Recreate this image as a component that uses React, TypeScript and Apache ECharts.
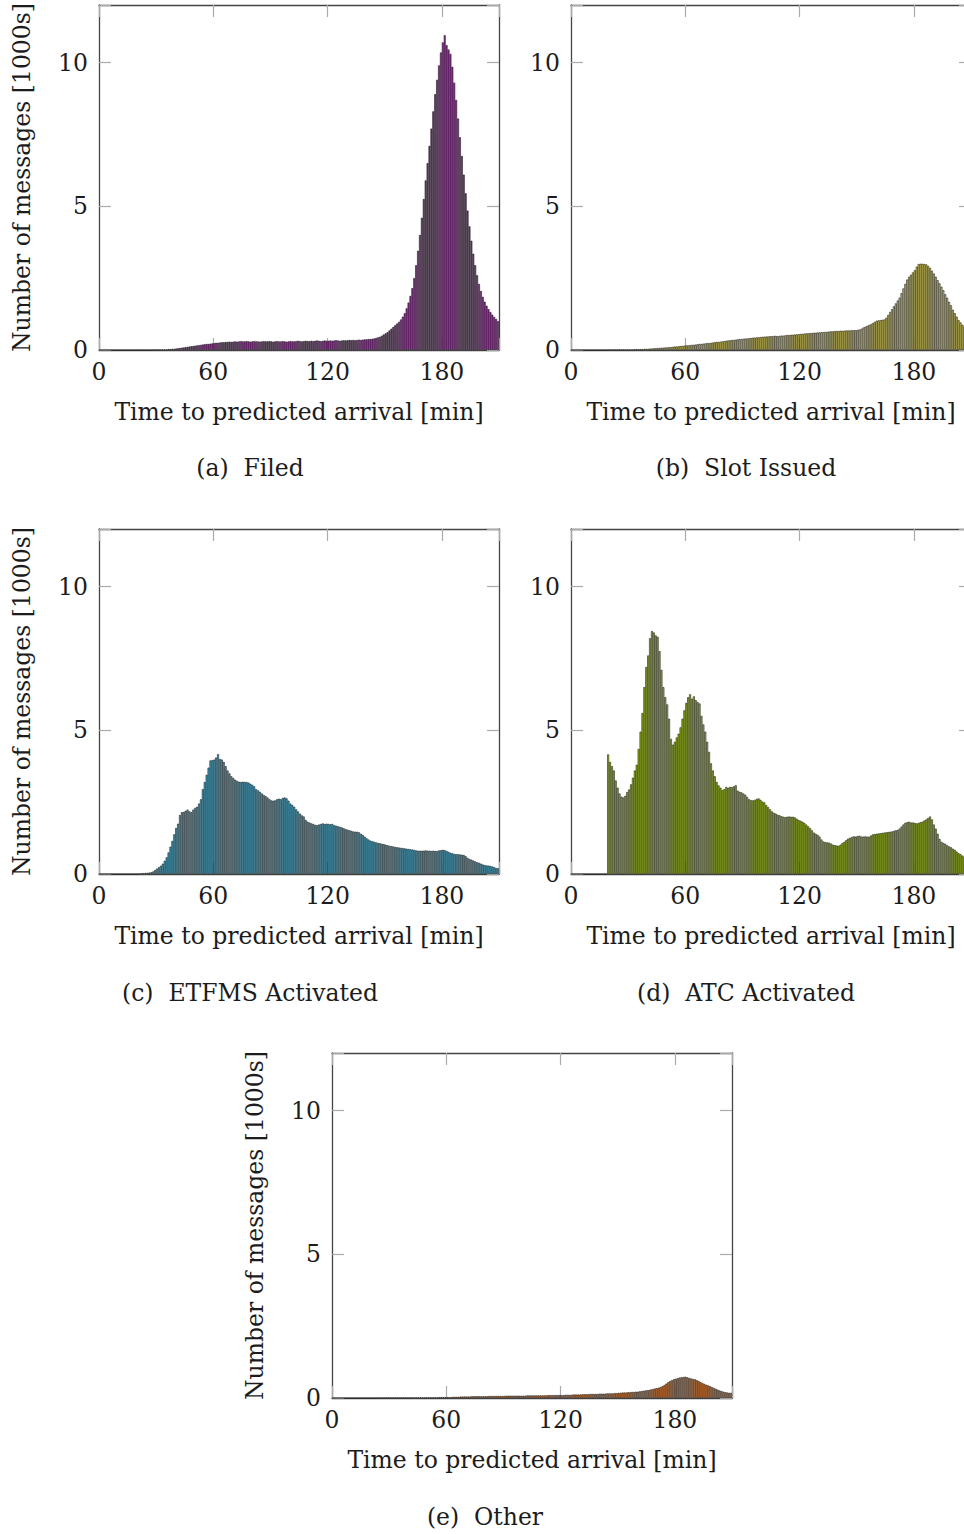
import React, { useEffect, useRef } from "react";
import * as echarts from "echarts";

const xTicks = [0, 60, 120, 180];
const yTicks = [0, 5, 10];
const xTitle = "Time to predicted arrival [min]";
const yTitle = "Number of messages [1000s]";

// 1-minute bins, 0..209 min, values in 1000s of messages
const filed = [
  0, 0, 0, 0, 0, 0, 0, 0, 0, 0,
  0, 0, 0, 0, 0, 0, 0, 0, 0, 0,
  0, 0, 0, 0, 0, 0, 0, 0, 0.01, 0.01,
  0.01, 0.01, 0.01, 0.02, 0.02, 0.02, 0.03, 0.03, 0.04, 0.04,
  0.05, 0.06, 0.07, 0.08, 0.09, 0.1, 0.11, 0.12, 0.13, 0.14,
  0.15, 0.16, 0.17, 0.18, 0.19, 0.2, 0.21, 0.21, 0.22, 0.23,
  0.24, 0.25, 0.25, 0.26, 0.27, 0.27, 0.28, 0.28, 0.29, 0.28,
  0.29, 0.3, 0.29, 0.3, 0.31, 0.3, 0.3, 0.31, 0.3, 0.29,
  0.3, 0.31, 0.3, 0.3, 0.29, 0.3, 0.31, 0.3, 0.3, 0.31,
  0.3, 0.29, 0.3, 0.31, 0.3, 0.3, 0.31, 0.3, 0.29, 0.3,
  0.31, 0.3, 0.3, 0.31, 0.32, 0.31, 0.3, 0.31, 0.32, 0.31,
  0.31, 0.32, 0.31, 0.32, 0.33, 0.32, 0.31, 0.32, 0.33, 0.32,
  0.32, 0.33, 0.32, 0.33, 0.34, 0.33, 0.32, 0.33, 0.34, 0.33,
  0.34, 0.35, 0.34, 0.35, 0.34, 0.35, 0.36, 0.35, 0.36, 0.37,
  0.37, 0.38, 0.38, 0.39, 0.4, 0.42, 0.44, 0.46, 0.5, 0.54,
  0.58, 0.62, 0.68, 0.74, 0.8, 0.86, 0.92, 0.98, 1.06, 1.16,
  1.28, 1.45, 1.65, 1.88, 2.15, 2.5, 2.95, 3.45, 4.0, 4.6,
  5.25, 5.9, 6.5, 7.1, 7.7, 8.3, 8.9, 9.4, 9.9, 10.35,
  10.7, 10.95, 10.6, 10.45, 10.3, 9.85, 9.3, 8.7, 8.05, 7.4,
  6.75, 6.1, 5.45, 4.85, 4.3, 3.8, 3.35, 2.95, 2.6, 2.3,
  2.05, 1.85, 1.68, 1.54, 1.42, 1.32, 1.23, 1.15, 1.08, 1.0,
];

const slotIssued = [
  0, 0, 0, 0, 0, 0, 0, 0, 0, 0,
  0, 0, 0, 0, 0, 0, 0, 0, 0, 0.01,
  0.01, 0.01, 0.01, 0.01, 0.01, 0.01, 0.01, 0.02, 0.02, 0.02,
  0.02, 0.02, 0.02, 0.03, 0.03, 0.03, 0.03, 0.03, 0.04, 0.04,
  0.04, 0.05, 0.05, 0.06, 0.06, 0.07, 0.07, 0.08, 0.08, 0.09,
  0.09, 0.1, 0.1, 0.11, 0.12, 0.12, 0.13, 0.14, 0.14, 0.15,
  0.16, 0.16, 0.17, 0.18, 0.18, 0.19, 0.2, 0.21, 0.21, 0.22,
  0.23, 0.24, 0.24, 0.25, 0.26, 0.27, 0.28, 0.28, 0.29, 0.3,
  0.31, 0.32, 0.33, 0.34, 0.35, 0.35, 0.36, 0.37, 0.38, 0.38,
  0.39, 0.4, 0.4, 0.41, 0.42, 0.43, 0.43, 0.44, 0.44, 0.45,
  0.46, 0.46, 0.47, 0.47, 0.48, 0.48, 0.49, 0.49, 0.48, 0.49,
  0.5, 0.5, 0.51, 0.52, 0.52, 0.53, 0.53, 0.54, 0.54, 0.55,
  0.56, 0.56, 0.57, 0.58, 0.58, 0.59, 0.59, 0.6, 0.6, 0.61,
  0.61, 0.62, 0.62, 0.63, 0.63, 0.64, 0.65, 0.65, 0.66, 0.66,
  0.66, 0.67, 0.67, 0.67, 0.68, 0.68, 0.68, 0.69, 0.69, 0.69,
  0.7, 0.71, 0.74, 0.78, 0.81, 0.84, 0.87, 0.9, 0.94, 0.98,
  1.02, 1.03, 1.04, 1.05, 1.06, 1.12, 1.22, 1.32, 1.42, 1.52,
  1.62, 1.72, 1.82, 1.98, 2.14, 2.3, 2.45, 2.55, 2.62, 2.7,
  2.78, 2.9, 2.99, 3.0, 3.0, 2.99, 2.98, 2.93, 2.86, 2.76,
  2.66, 2.55, 2.43, 2.32, 2.2, 2.08, 1.94, 1.82, 1.68, 1.56,
  1.4, 1.28, 1.16, 1.04, 0.96, 0.88, 0.83, 0.78, 0.74, 0.7,
];

const etfmsActivated = [
  0, 0, 0, 0, 0, 0, 0, 0, 0, 0,
  0, 0, 0, 0, 0, 0, 0, 0, 0, 0,
  0.01, 0.02, 0.03, 0.03, 0.04, 0.04, 0.05, 0.06, 0.09, 0.14,
  0.19, 0.24, 0.29, 0.36, 0.46, 0.58, 0.75, 0.95, 1.15, 1.38,
  1.6, 1.75, 2.05, 2.15, 2.16, 2.2, 2.24, 2.18, 2.15, 2.24,
  2.3, 2.34, 2.45, 2.6, 2.95, 3.2, 3.45, 3.7, 3.95, 3.96,
  3.98, 4.05, 4.17, 4.0, 3.98, 3.9, 3.75, 3.6, 3.5, 3.4,
  3.34, 3.28, 3.24, 3.21, 3.2, 3.21, 3.2, 3.2, 3.18, 3.14,
  3.1, 3.05, 2.95, 2.91, 2.86, 2.8, 2.75, 2.71, 2.66, 2.6,
  2.56, 2.55, 2.56, 2.6, 2.62, 2.6, 2.65, 2.66, 2.63, 2.55,
  2.45, 2.4, 2.34, 2.25, 2.18, 2.1, 2.04, 2.0, 1.88, 1.82,
  1.79, 1.76, 1.74, 1.71, 1.7, 1.72, 1.74, 1.76, 1.74, 1.75,
  1.74, 1.73, 1.74, 1.7, 1.68, 1.66, 1.64, 1.62, 1.59, 1.56,
  1.54, 1.52, 1.5, 1.48, 1.47, 1.47, 1.45, 1.4, 1.36, 1.3,
  1.24, 1.2, 1.16, 1.14, 1.12, 1.1, 1.08, 1.07, 1.05, 1.04,
  1.02, 1.0, 0.98, 0.97, 0.96, 0.94, 0.93, 0.92, 0.91, 0.9,
  0.89, 0.88, 0.87, 0.86, 0.85, 0.84, 0.82, 0.81, 0.81, 0.81,
  0.81, 0.82, 0.81, 0.81, 0.8, 0.81, 0.8, 0.8, 0.82, 0.83,
  0.84, 0.83, 0.8, 0.77, 0.74, 0.72, 0.7, 0.69, 0.69, 0.68,
  0.67, 0.66, 0.62, 0.56, 0.52, 0.5, 0.47, 0.44, 0.41, 0.39,
  0.36, 0.33, 0.31, 0.3, 0.29, 0.28, 0.26, 0.24, 0.21, 0.2,
];

const atcActivated = [
  0, 0, 0, 0, 0, 0, 0, 0, 0, 0,
  0, 0, 0, 0, 0, 0, 0, 0, 0, 4.16,
  3.9, 3.75, 3.6, 3.25, 3.0, 2.8, 2.69, 2.66, 2.72, 2.85,
  2.94, 3.12, 3.35, 3.6, 3.8, 4.35, 4.95, 5.6, 6.5, 7.2,
  7.6, 8.2, 8.45, 8.4, 8.3, 8.25, 7.75, 7.1, 6.5, 6.15,
  5.9, 5.4, 4.7, 4.5, 4.6, 4.75, 4.88, 5.1, 5.4, 5.69,
  5.95, 6.15, 6.25, 6.1, 6.18, 6.05, 5.98, 5.93, 5.5, 5.2,
  4.95, 4.6, 4.25, 3.85, 3.6, 3.4, 3.2, 3.08, 3.0, 2.92,
  2.95, 3.03, 3.0, 3.03, 3.02, 3.05, 3.09, 2.9, 2.86, 2.84,
  2.8, 2.76, 2.68, 2.6, 2.57, 2.56, 2.58, 2.61, 2.63, 2.58,
  2.52, 2.49, 2.4, 2.33, 2.25, 2.18, 2.13, 2.1, 2.06, 2.04,
  2.01, 1.99, 1.98, 1.99, 2.0, 1.99, 1.99, 1.97, 1.92, 1.88,
  1.85, 1.82, 1.78, 1.72, 1.66, 1.6, 1.52, 1.44, 1.4, 1.36,
  1.3, 1.2, 1.13, 1.11, 1.1, 1.09, 1.06, 1.02, 1.0, 0.99,
  0.98, 1.02, 1.08, 1.12, 1.18, 1.23, 1.26, 1.29, 1.31, 1.3,
  1.32, 1.33, 1.3, 1.3, 1.31, 1.3, 1.3, 1.34, 1.38, 1.39,
  1.4, 1.41, 1.42, 1.43, 1.44, 1.45, 1.46, 1.47, 1.48, 1.5,
  1.52, 1.53, 1.58, 1.65, 1.72, 1.78, 1.8, 1.82, 1.79, 1.79,
  1.78, 1.76, 1.78, 1.8, 1.82, 1.86, 1.9, 1.95, 2.0, 1.9,
  1.72, 1.58, 1.4, 1.22, 1.12, 1.08, 1.05, 1.0, 0.96, 0.93,
  0.88, 0.84, 0.78, 0.72, 0.69, 0.64, 0.6, 0.58, 0.55, 0.52,
];

const other = [
  0, 0, 0, 0, 0, 0, 0, 0, 0, 0,
  0, 0, 0, 0, 0, 0, 0, 0, 0, 0,
  0, 0, 0, 0, 0, 0.01, 0.01, 0.01, 0.01, 0.01,
  0.01, 0.01, 0.01, 0.01, 0.01, 0.01, 0.01, 0.01, 0.01, 0.01,
  0.01, 0.01, 0.02, 0.02, 0.02, 0.02, 0.02, 0.02, 0.02, 0.02,
  0.02, 0.02, 0.02, 0.02, 0.02, 0.02, 0.03, 0.03, 0.03, 0.03,
  0.03, 0.03, 0.03, 0.04, 0.04, 0.04, 0.04, 0.05, 0.05, 0.05,
  0.05, 0.05, 0.05, 0.06, 0.06, 0.06, 0.06, 0.06, 0.06, 0.06,
  0.06, 0.06, 0.07, 0.07, 0.07, 0.07, 0.07, 0.07, 0.07, 0.07,
  0.07, 0.08, 0.08, 0.08, 0.08, 0.08, 0.08, 0.08, 0.08, 0.08,
  0.08, 0.08, 0.09, 0.09, 0.09, 0.09, 0.09, 0.09, 0.09, 0.09,
  0.09, 0.09, 0.09, 0.1, 0.1, 0.1, 0.1, 0.1, 0.1, 0.1,
  0.1, 0.1, 0.11, 0.11, 0.11, 0.11, 0.12, 0.12, 0.12, 0.12,
  0.12, 0.13, 0.13, 0.13, 0.13, 0.14, 0.14, 0.14, 0.14, 0.14,
  0.15, 0.15, 0.15, 0.15, 0.16, 0.16, 0.16, 0.16, 0.17, 0.17,
  0.18, 0.18, 0.19, 0.19, 0.19, 0.2, 0.2, 0.21, 0.21, 0.22,
  0.22, 0.23, 0.24, 0.25, 0.26, 0.27, 0.28, 0.3, 0.31, 0.33,
  0.34, 0.36, 0.38, 0.41, 0.45, 0.5, 0.55, 0.59, 0.62, 0.65,
  0.67, 0.69, 0.71, 0.72, 0.73, 0.74, 0.72, 0.7, 0.68, 0.66,
  0.65, 0.62, 0.59, 0.55, 0.52, 0.49, 0.46, 0.44, 0.41, 0.38,
  0.35, 0.32, 0.29, 0.26, 0.24, 0.22, 0.2, 0.19, 0.18, 0.18,
];

const captions = ["(a)", "(b)", "(c)", "(d)", "(e)"];
const names = ["Filed", "Slot Issued", "ETFMS Activated", "ATC Activated", "Other"];
const seriesData = [filed, slotIssued, etfmsActivated, atcActivated, other];
const colors = ["#8c2a93", "#e2d657", "#45aed1", "#a2c616", "#ea7a28"];

// layout (pixels)
const layout = [
  { left: 99, top: 5, yTitle: true, capX: 250, capY: 468 },
  { left: 571, top: 5, yTitle: false, capX: 746, capY: 468 },
  { left: 99, top: 529, yTitle: true, capX: 250, capY: 993 },
  { left: 571, top: 529, yTitle: false, capX: 746, capY: 993 },
  { left: 332, top: 1053, yTitle: true, capX: 485, capY: 1517 },
];
const PW = 400;
const PH = 345;
const XMAX = 210;
const YMAX = 12;
const FONT = "DejaVu Serif";
const FS = 23.5;
const TXT = "#1c1c1c";

export default function App() {
  const ref = useRef<HTMLDivElement>(null);
  useEffect(() => {
    if (!ref.current) return;
    const chart = echarts.init(ref.current, undefined, { renderer: "svg" });
    const grid: any[] = [];
    const xAxis: any[] = [];
    const yAxis: any[] = [];
    const series: any[] = [];
    const graphic: any[] = [];
    const lineStyle = { color: "#444", width: 1.3 };
    const tickStyle = { color: "#aaa", width: 1.2 };
    layout.forEach((p, i) => {
      grid.push({
        left: p.left,
        top: p.top,
        width: PW,
        height: PH,
        containLabel: false,
        outerBoundsMode: "none",
      });
      xAxis.push({
        gridIndex: i,
        type: "value",
        position: "bottom",
        min: 0,
        max: XMAX,
        interval: 60,
        axisLine: { show: true, onZero: false, lineStyle },
        axisTick: { show: true, inside: true, length: 12, lineStyle: tickStyle },
        axisLabel: {
          show: true,
          margin: 10,
          fontFamily: FONT,
          fontSize: FS,
          color: TXT,
          formatter: (v: number) => (xTicks.includes(v) ? String(v) : ""),
        },
        splitLine: { show: false },
        name: xTitle,
        nameLocation: "middle",
        nameGap: 50,
        nameTextStyle: { fontFamily: FONT, fontSize: FS, color: TXT },
      });
      xAxis.push({
        gridIndex: i,
        type: "value",
        position: "top",
        min: 0,
        max: XMAX,
        interval: 60,
        axisLine: { show: true, onZero: false, lineStyle },
        axisTick: { show: true, inside: true, length: 12, lineStyle: tickStyle },
        axisLabel: { show: false },
        splitLine: { show: false },
      });
      yAxis.push({
        gridIndex: i,
        type: "value",
        position: "left",
        min: 0,
        max: YMAX,
        interval: 5,
        axisLine: { show: true, onZero: false, lineStyle },
        axisTick: { show: true, inside: true, length: 12, lineStyle: tickStyle },
        axisLabel: {
          show: true,
          margin: 11,
          fontFamily: FONT,
          fontSize: FS,
          color: TXT,
          formatter: (v: number) => (yTicks.includes(v) ? String(v) : ""),
        },
        splitLine: { show: false },
        name: p.yTitle ? yTitle : "",
        nameLocation: "middle",
        nameRotate: 90,
        nameGap: 65,
        nameTextStyle: { fontFamily: FONT, fontSize: FS, color: TXT },
      });
      yAxis.push({
        gridIndex: i,
        type: "value",
        position: "right",
        min: 0,
        max: YMAX,
        interval: 5,
        axisLine: { show: true, onZero: false, lineStyle },
        axisTick: { show: true, inside: true, length: 12, lineStyle: tickStyle },
        axisLabel: { show: false },
        splitLine: { show: false },
      });
      series.push({
        type: "bar",
        name: names[i],
        xAxisIndex: 2 * i,
        yAxisIndex: 2 * i,
        barWidth: PW / XMAX,
        silent: true,
        itemStyle: { color: colors[i], borderColor: "#1e1e1e", borderWidth: 0.6 },
        data: seriesData[i].map((v, k) => [k + 0.5, v]),
      });
      graphic.push({
        type: "text",
        x: p.capX,
        y: p.capY,
        style: {
          text: captions[i] + "\u00a0\u00a0" + names[i],
          textAlign: "center",
          textVerticalAlign: "middle",
          font: `${FS}px "${FONT}"`,
          fill: TXT,
        },
      });
    });
    chart.setOption({
      animation: false,
      backgroundColor: "#fff",
      grid,
      xAxis,
      yAxis,
      series,
      graphic,
    });
    return () => chart.dispose();
  }, []);
  return (
    <div
      ref={ref}
      style={{ position: "absolute", left: 0, top: 0, width: 964, height: 1534 }}
    />
  );
}
